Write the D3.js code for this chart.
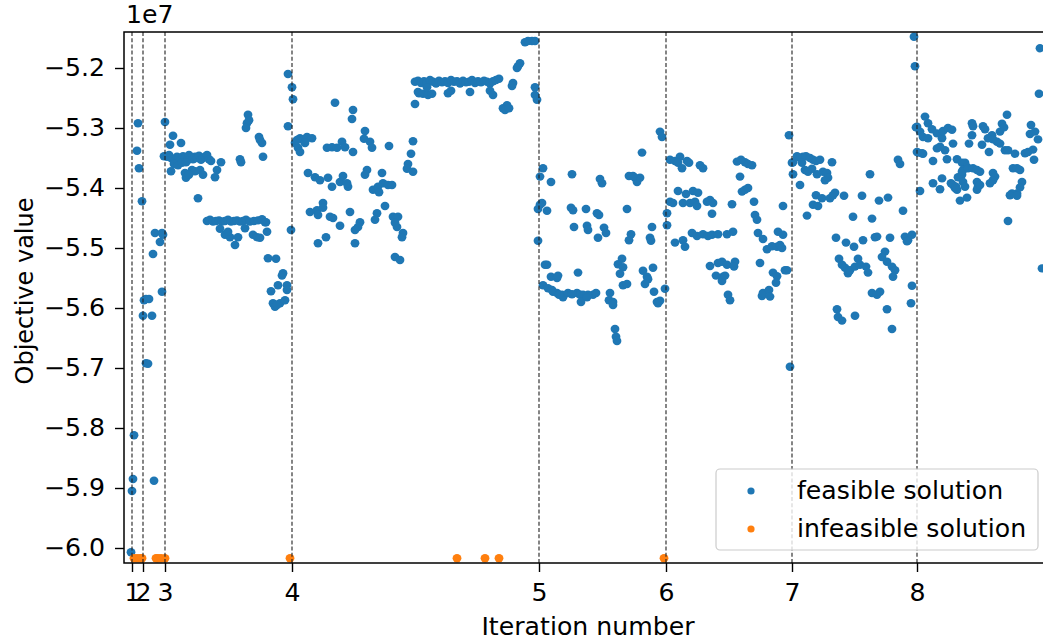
<!DOCTYPE html>
<html><head><meta charset="utf-8">
<script src="https://cdn.jsdelivr.net/npm/d3@7"></script>
<style>body{margin:0;background:#fff}text{font-family:"DejaVu Sans",sans-serif;fill:#000}</style>
</head><body><svg id="c" width="1043" height="640"></svg>
<script>
// x: evaluation index, y: objective value in units of 1e7
const iterBounds = [8, 19, 41, 168, 415, 542, 668, 793];
const iterLabels = ["1","2","3","4","5","6","7","8"];
const yTicks = [-5.2,-5.3,-5.4,-5.5,-5.6,-5.7,-5.8,-5.9,-6.0];
const seriesNames = ["feasible solution","infeasible solution"];
const seriesColors = ["#1f77b4","#ff7f0e"];

const feasible = [
[7,-6.007],[8,-5.905],[9,-5.885],[10,-5.812],
[14,-5.292],[13,-5.338],[15,-5.367],[18,-5.422],[20,-5.587],[22,-5.585],[25,-5.585],[19,-5.613],[28,-5.613],[22,-5.692],[24,-5.693],
[29,-5.51],[31,-5.475],[38,-5.475],[36,-5.49],[38,-5.573],[30,-5.888],[39,-5.478],[40,-5.347],[41,-5.29],
[49,-5.313],[46,-5.328],[57,-5.325],[47,-5.372],
[43,-5.348],[45,-5.345],[47,-5.35],[49,-5.352],[51,-5.355],[53,-5.348],[55,-5.35],[57,-5.353],[59,-5.347],[61,-5.35],[63,-5.355],[65,-5.345],[67,-5.35],[69,-5.352],[71,-5.348],[73,-5.35],[75,-5.346],[77,-5.353],[79,-5.35],[81,-5.348],[83,-5.345],[85,-5.352],[87,-5.355],
[50,-5.36],[54,-5.362],[58,-5.358],[62,-5.357],
[61,-5.375],[62,-5.383],[68,-5.37],[76,-5.37],[79,-5.378],[71,-5.372],[65,-5.378],
[74,-5.417],[93,-5.37],[91,-5.382],[97,-5.357],[116,-5.352],[117,-5.357],
[124,-5.278],[123,-5.292],[122,-5.3],[125,-5.287],
[135,-5.315],[138,-5.325],[139,-5.348],[136,-5.32],
[164,-5.297],[164,-5.21],[168,-5.232],[169,-5.252],
[83,-5.455],[86,-5.453],[89,-5.456],[92,-5.455],[95,-5.454],[98,-5.456],[101,-5.455],[104,-5.453],[107,-5.456],[110,-5.455],[113,-5.454],[116,-5.456],[119,-5.455],[122,-5.453],[126,-5.456],[130,-5.455],[134,-5.454],[138,-5.452],[142,-5.457],
[141,-5.457],[143,-5.473],
[101,-5.478],[106,-5.482],[111,-5.495],[114,-5.482],[104,-5.473],[96,-5.468],[129,-5.478],[133,-5.482],[136,-5.483],[121,-5.467],
[144,-5.517],[152,-5.518],
[159,-5.542],[158,-5.546],[163,-5.562],[154,-5.562],[147,-5.572],
[149,-5.592],[151,-5.598],[156,-5.592],[161,-5.587],[153,-5.595],[163,-5.57],[167,-5.47],
[176,-5.317],[179,-5.32],[183,-5.315],[188,-5.317],[171,-5.325],[174,-5.333],[176,-5.34],[173,-5.32],[181,-5.325],
[211,-5.258],[229,-5.27],[228,-5.285],
[241,-5.305],[240,-5.318],[246,-5.323],[248,-5.333],
[203,-5.333],[208,-5.332],[213,-5.333],[218,-5.323],[221,-5.332],[229,-5.34],
[265,-5.33],[291,-5.26],[295,-5.242],
[289,-5.322],[287,-5.343],[284,-5.36],[283,-5.368],[289,-5.373],
[184,-5.375],[191,-5.382],[196,-5.387],[204,-5.383],[208,-5.398],[216,-5.39],[219,-5.38],[224,-5.398],[223,-5.392],
[243,-5.37],[241,-5.378],
[258,-5.375],[259,-5.392],[264,-5.395],[268,-5.395],
[249,-5.403],[254,-5.398],[255,-5.407],
[186,-5.44],[193,-5.437],[199,-5.425],[194,-5.445],[199,-5.433],
[206,-5.448],[209,-5.45],[226,-5.44],[216,-5.463],
[236,-5.457],[234,-5.465],[231,-5.47],
[253,-5.442],[251,-5.453],[261,-5.43],
[269,-5.448],[274,-5.448],[273,-5.465],[271,-5.458],
[279,-5.475],[278,-5.482],[202,-5.482],[194,-5.492],[231,-5.492],
[271,-5.515],[276,-5.52],
[291,-5.223],[294,-5.221],[297,-5.225],[300,-5.222],[303,-5.224],[306,-5.22],[309,-5.223],[312,-5.226],[315,-5.221],[318,-5.224],[321,-5.222],[324,-5.225],[327,-5.22],[330,-5.223],[333,-5.222],[336,-5.226],[339,-5.221],[342,-5.224],[345,-5.223],[348,-5.22],[351,-5.225],[354,-5.222],[357,-5.224],[360,-5.221],[363,-5.223],[366,-5.226],[369,-5.222],[372,-5.22],[375,-5.218],
[294,-5.24],[299,-5.243],[304,-5.245],[308,-5.243],[324,-5.242],[327,-5.238],[346,-5.24],[366,-5.238],[369,-5.245],[303,-5.232],
[379,-5.267],[383,-5.262],[381,-5.27],[385,-5.267],
[389,-5.225],[388,-5.23],
[393,-5.2],[396,-5.192],[394,-5.197],
[401,-5.157],[408,-5.155],[404,-5.155],[411,-5.155],
[411,-5.232],[411,-5.245],[413,-5.253],[414,-5.488],
[419,-5.367],[416,-5.381],[427,-5.39],[448,-5.377],[476,-5.385],[478,-5.392],[518,-5.341],
[505,-5.38],[511,-5.383],[513,-5.39],[516,-5.383],[509,-5.38],
[536,-5.306],[538,-5.315],
[416,-5.428],[414,-5.435],[418,-5.425],[423,-5.438],[447,-5.433],[449,-5.437],[462,-5.435],[473,-5.442],[475,-5.445],[503,-5.435],
[450,-5.465],[463,-5.463],[464,-5.47],[480,-5.466],[482,-5.475],[474,-5.483],[507,-5.477],[505,-5.487],
[528,-5.465],[526,-5.483],[527,-5.488],
[421,-5.528],[423,-5.528],[427,-5.548],[433,-5.55],[434,-5.546],
[419,-5.562],[424,-5.567],[429,-5.573],[433,-5.575],[438,-5.578],[439,-5.582],[444,-5.575],[453,-5.575],[456,-5.578],[459,-5.578],[464,-5.578],[469,-5.578],[472,-5.575],[457,-5.59],[428,-5.57],[435,-5.578],[448,-5.577],[463,-5.582],
[454,-5.541],
[486,-5.575],[485,-5.587],[489,-5.59],[489,-5.595],
[491,-5.635],[492,-5.648],[493,-5.655],
[498,-5.518],[494,-5.527],[499,-5.532],[496,-5.543],
[499,-5.562],[503,-5.56],
[519,-5.538],[523,-5.548],[524,-5.552],[521,-5.56],[529,-5.533],[530,-5.573],
[533,-5.59],[534,-5.592],[536,-5.588],[541,-5.568],
[543,-5.442],[543,-5.462],
[546,-5.353],[551,-5.355],[556,-5.348],[554,-5.358],[558,-5.367],[563,-5.355],[565,-5.358],
[576,-5.362],[579,-5.367],
[613,-5.356],[621,-5.357],[624,-5.36],[628,-5.362],[617,-5.353],[616,-5.381],
[554,-5.405],[562,-5.41],[569,-5.405],[574,-5.408],
[618,-5.406],[621,-5.403],[624,-5.4],
[546,-5.423],[549,-5.425],[559,-5.425],[566,-5.425],[571,-5.423],[573,-5.43],
[583,-5.423],[586,-5.42],[589,-5.425],[588,-5.443],[608,-5.427],[630,-5.423],
[631,-5.445],[633,-5.453],[659,-5.43],
[551,-5.491],[559,-5.487],[561,-5.498],
[568,-5.475],[573,-5.48],[579,-5.477],[584,-5.48],[588,-5.478],[594,-5.477],[603,-5.477],[609,-5.473],
[634,-5.475],[639,-5.485],
[643,-5.502],[648,-5.497],[653,-5.498],[656,-5.495],[658,-5.5],
[654,-5.473],[659,-5.478],
[586,-5.53],[594,-5.525],[598,-5.523],[603,-5.528],[592,-5.546],[599,-5.548],[598,-5.555],[601,-5.546],
[611,-5.523],[610,-5.531],[604,-5.578],[606,-5.587],[636,-5.525],
[649,-5.541],[653,-5.547],[652,-5.558],
[638,-5.58],[639,-5.575],[645,-5.57],[646,-5.581],
[661,-5.537],[663,-5.537],[665,-5.312],[666,-5.698],
[669,-5.357],[668,-5.358],
[673,-5.347],[676,-5.35],[679,-5.348],[682,-5.347],[686,-5.35],[689,-5.353],[692,-5.355],[696,-5.353],
[678,-5.358],[681,-5.37],[684,-5.373],[688,-5.368],[693,-5.377],[699,-5.373],[703,-5.375],[704,-5.383],[701,-5.387],
[708,-5.357],[669,-5.377],[676,-5.395],
[692,-5.412],[698,-5.417],[689,-5.428],[694,-5.43],
[706,-5.417],[709,-5.412],[711,-5.408],
[683,-5.446],[720,-5.413],[738,-5.413],[746,-5.377],
[755,-5.421],[764,-5.416],[729,-5.448],[748,-5.451],
[774,-5.353],[776,-5.36],[779,-5.438],
[712,-5.483],[722,-5.491],[730,-5.498],[739,-5.487],[751,-5.482],[753,-5.481],[766,-5.483],
[781,-5.481],[784,-5.487],[788,-5.478],[783,-5.489],
[715,-5.518],[718,-5.528],[721,-5.533],[724,-5.542],[726,-5.537],[731,-5.531],[734,-5.518],[736,-5.528],[742,-5.531],[744,-5.541],
[761,-5.506],[758,-5.515],[763,-5.523],[768,-5.531],[771,-5.537],[769,-5.548],
[748,-5.575],[753,-5.578],[756,-5.573],
[713,-5.602],[714,-5.615],[718,-5.621],[731,-5.613],[763,-5.602],[768,-5.635],
[788,-5.563],[787,-5.592],
[790,-5.148],[791,-5.197],[792,-5.299],[794,-5.341],[799,-5.343],[796,-5.405],
[916,-5.167],[915,-5.243],[918,-5.534],
[793,-5.298],[796,-5.306],[801,-5.281],[804,-5.292],[808,-5.302],[813,-5.309],[818,-5.317],[819,-5.305],[824,-5.3],[828,-5.303],
[799,-5.315],[804,-5.317],[813,-5.334],[821,-5.337],[816,-5.331],
[793,-5.34],[798,-5.342],[809,-5.355],
[818,-5.384],[809,-5.392],[816,-5.402],
[829,-5.326],[823,-5.352],[833,-5.352],
[838,-5.358],[841,-5.358],[843,-5.365],[839,-5.37],[838,-5.378],[834,-5.382],[838,-5.373],[844,-5.367],[849,-5.367],[856,-5.373],[853,-5.37],
[829,-5.395],[831,-5.4],[833,-5.403],[836,-5.421],[843,-5.416],
[848,-5.292],[849,-5.297],[848,-5.312],[845,-5.326],
[859,-5.297],[861,-5.302],[858,-5.328],[864,-5.317],[868,-5.312],[869,-5.319],[865,-5.34],[873,-5.323],[876,-5.326],[878,-5.293],[876,-5.306],[880,-5.299],
[883,-5.278],[881,-5.337],[884,-5.337],
[853,-5.39],[854,-5.398],[853,-5.403],[856,-5.395],
[869,-5.375],[871,-5.381],[869,-5.387],
[889,-5.367],[893,-5.367],[896,-5.37],
[891,-5.343],[901,-5.342],[904,-5.34],[909,-5.336],
[898,-5.39],[896,-5.399],[893,-5.409],[888,-5.409],[886,-5.412],[893,-5.413],
[884,-5.455],
[907,-5.295],[906,-5.31],[911,-5.306],[914,-5.319],[910,-5.353],
[827,-5.392],[832,-5.398],[839,-5.39],[841,-5.398],[866,-5.392]
];

const infeasible = [
[10,-6.017],[13,-6.017],[16,-6.017],[18,-6.017],
[32,-6.017],[34,-6.017],[37,-6.017],[41,-6.017],
[166,-6.017],[333,-6.017],[361,-6.017],[375,-6.017],[540,-6.017]
];

const L = 124, R = 1052, T = 32, B = 563;
const SX = 1.05; // horizontal stretch of the reference's text
const svg = d3.select("#c");
const x = d3.scaleLinear().domain([0, 928]).range([L, R]);
const y = d3.scaleLinear().domain([-5.14, -6.025]).range([T, B]);
const FS = 24;

svg.append("defs").append("clipPath").attr("id","clip")
  .append("rect").attr("x",L).attr("y",T).attr("width",R-L).attr("height",B-T);

const plot = svg.append("g").attr("clip-path","url(#clip)");
plot.append("g").selectAll("ellipse").data(feasible).join("ellipse")
  .attr("cx",d=>x(d[0])).attr("cy",d=>y(d[1])).attr("rx",4.4).attr("ry",4.2).attr("fill",seriesColors[0]);
plot.append("g").selectAll("ellipse").data(infeasible).join("ellipse")
  .attr("cx",d=>x(d[0])).attr("cy",d=>y(d[1])).attr("rx",4.4).attr("ry",4.2).attr("fill",seriesColors[1]);

plot.append("g").selectAll("line").data(iterBounds).join("line")
  .attr("x1",d=>x(d)).attr("x2",d=>x(d)).attr("y1",T).attr("y2",B)
  .attr("stroke","#222").attr("stroke-width",1.1).attr("stroke-dasharray","4,2.2");

// axes
const fmt = d => d3.format(".1f")(d).replace("-","\u2212");
const yAxis = svg.append("g").attr("transform",`translate(${L},0)`)
  .call(d3.axisLeft(y).tickValues(yTicks).tickFormat(fmt).tickSize(9).tickPadding(10).tickSizeOuter(0));
const xAxis = svg.append("g").attr("transform",`translate(0,${B})`)
  .call(d3.axisBottom(x).tickValues(iterBounds).tickFormat((d,i)=>iterLabels[i]).tickSize(9).tickPadding(12).tickSizeOuter(0));
[yAxis,xAxis].forEach(a=>{
  a.selectAll("text").attr("font-size",FS).attr("font-family","DejaVu Sans").attr("fill","#000");
  a.selectAll("line").attr("stroke","#000").attr("stroke-width",1.4);
  a.select(".domain").remove();
});
// stretch tick labels horizontally around their anchor
yAxis.selectAll(".tick text").each(function(){
  const t = d3.select(this); const tx = +t.attr("x");
  t.attr("x", tx/SX).attr("transform",`scale(${SX},1)`);
});
xAxis.selectAll(".tick text").attr("transform",`scale(${SX},1)`);

// spines
svg.append("rect").attr("x",L).attr("y",T).attr("width",R-L).attr("height",B-T)
  .attr("fill","none").attr("stroke","#000").attr("stroke-width",1.5);

function stext(px, py, str, anchor){
  return svg.append("text").attr("transform",`translate(${px},${py}) scale(${SX},1)`)
    .attr("text-anchor",anchor||"start").attr("font-size",FS).text(str);
}
stext(126, 23, "1e7");
stext(588, 635, "Iteration number", "middle");
svg.append("text").attr("transform",`translate(33,291) rotate(-90)`).attr("text-anchor","middle").attr("font-size",FS).text("Objective value");

// legend
const lg = svg.append("g");
lg.append("rect").attr("x",716).attr("y",469).attr("width",322).attr("height",81).attr("rx",4)
  .attr("fill","#fff").attr("fill-opacity",0.8).attr("stroke","#cccccc").attr("stroke-width",1.2);
seriesNames.forEach((n,i)=>{
  lg.append("circle").attr("cx",751).attr("cy",491+38*i).attr("r",3.6).attr("fill",seriesColors[i]);
  lg.append("text").attr("transform",`translate(797,${499+38*i}) scale(${SX},1)`).attr("font-size",FS).text(n);
});
</script></body></html>
